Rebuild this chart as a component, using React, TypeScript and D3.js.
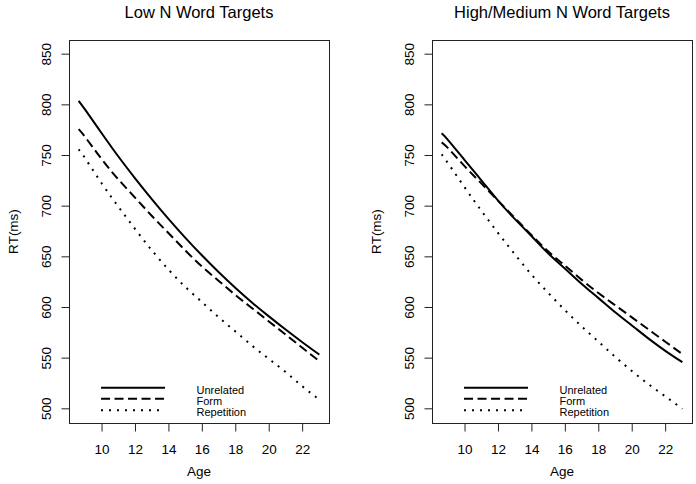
import React from "react";
import * as d3 from "d3";

const AGES = [8.6, 9, 10, 11, 12, 13, 14, 15, 16, 17, 18, 19, 20, 21, 22, 23];
const LOW_UNRELATED = [804, 795, 771.5, 748.5, 727, 706.5, 687, 668.5, 651, 634.5, 619, 604.5, 591, 578, 565.5, 553.5];
const LOW_FORM = [776, 768, 746, 726, 708, 690, 673, 656, 640, 626, 612, 599, 586, 573, 560, 547];
const LOW_REPETITION = [756, 747, 722, 699, 677, 656, 637, 620, 605, 590, 576, 562, 549, 536, 522, 509];
const HIGH_UNRELATED = [772, 765, 745, 725, 705, 687, 670, 653, 638, 623, 609, 595, 582, 569, 557, 546];
const HIGH_FORM = [763, 757, 739, 722, 705, 688, 671, 655, 641, 627, 614, 602, 590, 578, 566, 554];
const HIGH_REPETITION = [751, 742, 718, 695, 673, 652, 632, 614, 597, 581, 566, 551, 537, 524, 512, 500];

const X_TICKS = [10, 12, 14, 16, 18, 20, 22];
const Y_TICKS = [500, 550, 600, 650, 700, 750, 800, 850];
const Y_LIMITS = [500, 850];
const LEGEND_LABELS = ["Unrelated", "Form", "Repetition"];
const PANEL_TITLES = ["Low N Word Targets", "High/Medium N Word Targets"];
const X_LABEL = "Age";
const Y_LABEL = "RT(ms)";

const FONT = "'Liberation Sans', Arial, sans-serif";
const DASHES = [null, "9 4.5", "2 6"];

const W = 696;
const H = 484;
const BOX = { left: 69, right: 329, top: 40, bottom: 423 };

function Panel({ offset, title, series }: { offset: number; title: string; series: number[][] }) {
  const xr = d3.extent(AGES) as [number, number];
  const xp = (xr[1] - xr[0]) * 0.04;
  const yp = (Y_LIMITS[1] - Y_LIMITS[0]) * 0.04;
  const x = d3.scaleLinear().domain([xr[0] - xp, xr[1] + xp]).range([BOX.left + offset, BOX.right + offset]);
  const y = d3.scaleLinear().domain([Y_LIMITS[0] - yp, Y_LIMITS[1] + yp]).range([BOX.bottom, BOX.top]);
  const line = d3
    .line<number>()
    .x((_, i) => x(AGES[i]))
    .y((d) => y(d))
    .curve(d3.curveNatural);
  const cx = (BOX.left + BOX.right) / 2 + offset;
  const cy = (BOX.top + BOX.bottom) / 2;
  const legX0 = x(10) - 1;
  const legX1 = legX0 + 64;
  const legY = [387.7, 398.8, 410.2];
  return (
    <g>
      <text x={cx} y={17.5} textAnchor="middle" fontSize={16.5} fontFamily={FONT} fill="#000">
        {title}
      </text>
      {series.map((s, i) => (
        <path
          key={i}
          d={line(s) || ""}
          fill="none"
          stroke="#000"
          strokeWidth={2}
          strokeDasharray={DASHES[i] || undefined}
        />
      ))}
      <rect
        x={BOX.left + offset + 0.5}
        y={BOX.top + 0.5}
        width={BOX.right - BOX.left}
        height={BOX.bottom - BOX.top}
        fill="none"
        stroke="#222"
        strokeWidth={1}
      />
      {X_TICKS.map((t) => (
        <g key={t}>
          <line x1={x(t)} x2={x(t)} y1={BOX.bottom + 0.5} y2={BOX.bottom + 8.5} stroke="#222" strokeWidth={1} />
          <text x={x(t)} y={453.5} textAnchor="middle" fontSize={13.5} fontFamily={FONT} fill="#000">
            {t}
          </text>
        </g>
      ))}
      {Y_TICKS.map((t) => (
        <g key={t}>
          <line x1={BOX.left + offset + 0.5} x2={BOX.left + offset - 7.5} y1={y(t)} y2={y(t)} stroke="#222" strokeWidth={1} />
          <text
            transform={`translate(${BOX.left + offset - 18.5},${y(t)}) rotate(-90)`}
            textAnchor="middle"
            fontSize={13.5}
            fontFamily={FONT}
            fill="#000"
          >
            {t}
          </text>
        </g>
      ))}
      <text x={cx} y={475.5} textAnchor="middle" fontSize={13.5} fontFamily={FONT} fill="#000">
        {X_LABEL}
      </text>
      <text
        transform={`translate(${18.3 + offset},${cy}) rotate(-90)`}
        textAnchor="middle"
        fontSize={13.5}
        fontFamily={FONT}
        fill="#000"
      >
        {Y_LABEL}
      </text>
      {LEGEND_LABELS.map((lab, i) => (
        <g key={lab}>
          <line
            x1={legX0}
            x2={legX1}
            y1={legY[i]}
            y2={legY[i]}
            stroke="#000"
            strokeWidth={2}
            strokeDasharray={DASHES[i] || undefined}
          />
          <text x={legX0 + 95.5} y={legY[i] + 6} fontSize={11} fontFamily={FONT} fill="#000">
            {lab}
          </text>
        </g>
      ))}
    </g>
  );
}

export default function App() {
  return (
    <svg
      width={W}
      height={H}
      viewBox={`0 0 ${W} ${H}`}
      style={{ position: "fixed", left: 0, top: 0, background: "#fff", display: "block" }}
    >
      <rect x={0} y={0} width={W} height={H} fill="#fff" />
      <Panel offset={0} title={PANEL_TITLES[0]} series={[LOW_UNRELATED, LOW_FORM, LOW_REPETITION]} />
      <Panel offset={363} title={PANEL_TITLES[1]} series={[HIGH_UNRELATED, HIGH_FORM, HIGH_REPETITION]} />
    </svg>
  );
}
